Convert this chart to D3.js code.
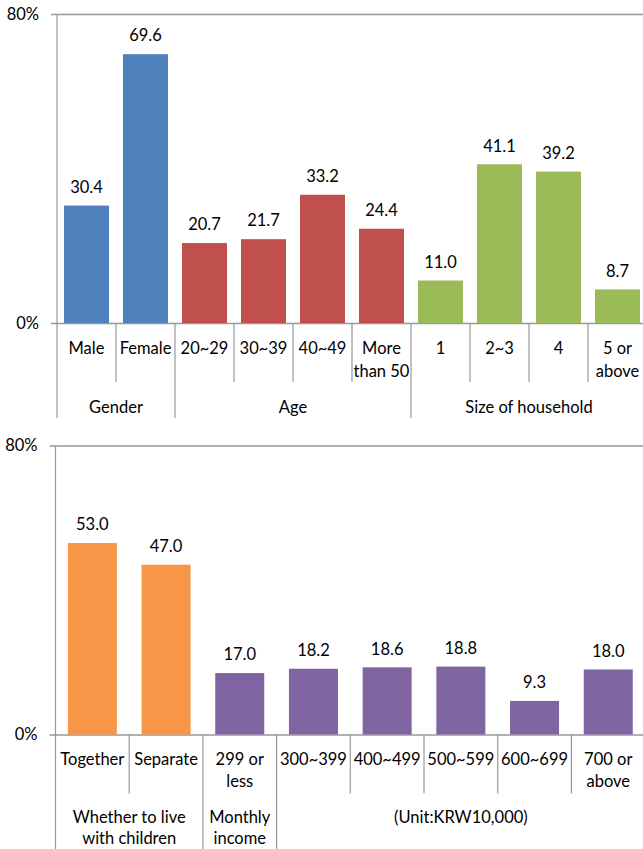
<!DOCTYPE html>
<html>
<head>
<meta charset="utf-8">
<script src="https://cdn.jsdelivr.net/npm/d3@7"></script>
<style>
  body { margin: 0; background: #fff; }
  svg text { font-family: Lato, "Open Sans", sans-serif; fill: #000; }
</style>
</head>
<body>
<svg id="chart" width="643" height="849"></svg>
<script>
// top panel
let topCategories = [["Male"], ["Female"], ["20~29"], ["30~39"], ["40~49"], ["More", "than 50"],
                     ["1"], ["2~3"], ["4"], ["5 or", "above"]];
let topValues = [30.4, 69.6, 20.7, 21.7, 33.2, 24.4, 11.0, 41.1, 39.2, 8.7];
let topGroupNames = [["Gender"], ["Age"], ["Size of household"]];
let topGroupSizes = [2, 4, 4];
let topGroupColors = ["#4F81BD", "#C0504D", "#9BBB59"];

// bottom panel
let bottomCategories = [["Together"], ["Separate"], ["299 or", "less"], ["300~399"], ["400~499"],
                        ["500~599"], ["600~699"], ["700 or", "above"]];
let bottomValues = [53.0, 47.0, 17.0, 18.2, 18.6, 18.8, 9.3, 18.0];
let bottomGroupNames = [["Whether to live", "with children"], ["Monthly", "income"], ["(Unit:KRW10,000)"]];
let bottomGroupSizes = [2, 1, 5];
let bottomGroupColors = ["#F79646", "#8064A2", "#8064A2"];

let yTicks = [0, 80];

let svg = d3.select("svg#chart");

drawPanel({
    categories: topCategories, values: topValues,
    groupNames: topGroupNames, groupSizes: topGroupSizes, groupColors: topGroupColors,
    left: 57, top: 14, zeroY: 323, step: 59, pad: 14 / 59,
    shortLen: 59, bottom: 418, catY: 348, catLine: 23, groupY: 407, groupLine: 21
});

drawPanel({
    categories: bottomCategories, values: bottomValues,
    groupNames: bottomGroupNames, groupSizes: bottomGroupSizes, groupColors: bottomGroupColors,
    left: 55.5, top: 445.5, zeroY: 734.5, step: 73.7, pad: 24.7 / 73.7,
    shortLen: 59, bottom: 849, catY: 759, catLine: 22.5, groupY: 817, groupLine: 21
});

function drawPanel(p) {
    let n = p.categories.length;
    let plotWidth = n * p.step;

    // which group each bar belongs to
    let groupOf = [];
    let groupStart = [0];
    p.groupSizes.forEach(function(size, g) {
        for (let k = 0; k < size; k++) groupOf.push(g);
        groupStart.push(groupStart[g] + size);
    });

    let x = d3.scaleBand()
        .domain(d3.range(n))
        .range([p.left, p.left + plotWidth])
        .paddingInner(p.pad)
        .paddingOuter(p.pad / 2);

    let y = d3.scaleLinear()
        .domain([0, 80])
        .range([p.zeroY, p.top]);

    let g = svg.append("g");

    // horizontal lines at 0% and 80%
    let grid = d3.axisLeft(y)
        .tickValues(yTicks)
        .tickFormat("")
        .tickSize(-plotWidth);
    g.append("g")
        .attr("transform", "translate(" + p.left + ",0)")
        .call(grid)
        .call(function(s) { s.select(".domain").remove(); })
        .selectAll("line")
        .attr("stroke", "#999")
        .attr("stroke-width", 1.5);

    let yAxis = d3.axisLeft(y)
        .tickValues(yTicks)
        .tickFormat(function(d) { return d + "%"; })
        .tickSize(6)
        .tickPadding(12);
    let yGroup = g.append("g")
        .attr("transform", "translate(" + p.left + ",0)")
        .call(yAxis);
    yGroup.select(".domain").remove();
    yGroup.selectAll("line").attr("stroke", "#999").attr("stroke-width", 1.5);
    yGroup.selectAll("text")
        .style("font-size", "16.5px")
        .style("font-family", "Lato, sans-serif")
        .attr("fill", "#000");

    // category separators, long ones at group boundaries
    let bounds = d3.range(n + 1);
    g.selectAll("line.sep")
        .data(bounds)
        .enter().append("line")
        .attr("class", "sep")
        .attr("x1", function(i) { return p.left + i * p.step; })
        .attr("x2", function(i) { return p.left + i * p.step; })
        .attr("y1", p.top)
        .attr("y2", function(i) { return groupStart.indexOf(i) >= 0 ? p.bottom : p.zeroY + p.shortLen; })
        .attr("y1", function(i) { return i === 0 ? p.top : p.zeroY; })
        .attr("stroke", "#999")
        .attr("stroke-width", 1.2);

    // bars
    g.selectAll("rect.bar")
        .data(p.values)
        .enter().append("rect")
        .attr("class", "bar")
        .attr("x", function(d, i) { return x(i); })
        .attr("width", x.bandwidth())
        .attr("y", function(d) { return y(d); })
        .attr("height", function(d) { return y(0) - y(d); })
        .attr("fill", function(d, i) { return p.groupColors[groupOf[i]]; });

    // value labels
    g.selectAll("text.val")
        .data(p.values)
        .enter().append("text")
        .attr("class", "val")
        .attr("x", function(d, i) { return x(i) + x.bandwidth() / 2; })
        .attr("y", function(d) { return y(d) - 18.5; })
        .attr("dy", "0.35em")
        .style("text-anchor", "middle")
        .style("font-size", "16.5px")
        .text(function(d) { return d.toFixed(1); });

    // category labels
    let cat = g.selectAll("text.cat")
        .data(p.categories)
        .enter().append("text")
        .attr("class", "cat")
        .style("text-anchor", "middle")
        .style("font-size", "16.5px");
    cat.selectAll("tspan")
        .data(function(lines, i) { return lines.map(function(l) { return { text: l, i: i }; }); })
        .enter().append("tspan")
        .attr("x", function(d) { return x(d.i) + x.bandwidth() / 2; })
        .attr("y", function(d, j) { return p.catY + j * p.catLine; })
        .attr("dy", "0.35em")
        .text(function(d) { return d.text; });

    // group labels
    let grp = g.selectAll("text.grp")
        .data(p.groupNames)
        .enter().append("text")
        .attr("class", "grp")
        .style("text-anchor", "middle")
        .style("font-size", "16.5px");
    grp.selectAll("tspan")
        .data(function(lines, gi) { return lines.map(function(l) { return { text: l, g: gi }; }); })
        .enter().append("tspan")
        .attr("x", function(d) {
            return p.left + (groupStart[d.g] + groupStart[d.g + 1]) / 2 * p.step;
        })
        .attr("y", function(d, j) { return p.groupY + j * p.groupLine; })
        .attr("dy", "0.35em")
        .text(function(d) { return d.text; });
}
</script>
</body>
</html>
